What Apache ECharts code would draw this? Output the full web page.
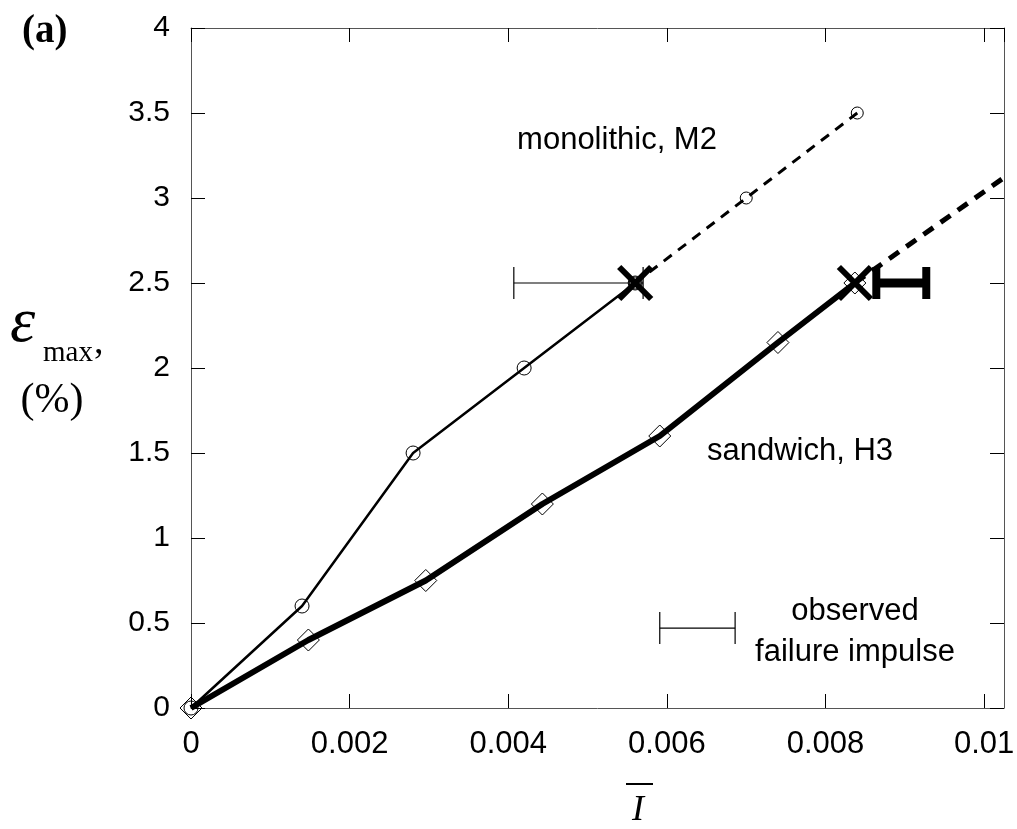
<!DOCTYPE html>
<html>
<head>
<meta charset="utf-8">
<script src="https://cdn.jsdelivr.net/npm/echarts@6/dist/echarts.min.js"></script>
<style>html,body{margin:0;padding:0;background:#fff}#c{width:1017px;height:829px}</style>
</head>
<body>
<div id="c"></div>
<script>
// ---- data ----
const monoSolidX = [0, 0.0014, 0.0028, 0.0042, 0.0056];
const monoSolidY = [0, 0.6, 1.5, 2.0, 2.5];
const monoDashX = [0.0056, 0.0070, 0.0084];
const monoDashY = [2.5, 3.0, 3.5];
const sandSolidX = [0, 0.00148, 0.00296, 0.00443, 0.00591, 0.0074, 0.00837];
const sandSolidY = [0, 0.4, 0.75, 1.2, 1.6, 2.15, 2.5];
const sandDashX = [0.00837, 0.01025];
const sandDashY = [2.5, 3.12];
const failX = [0.0056, 0.00837];
const failY = [2.5, 2.5];
// error bars: [xLow, xHigh, y]
const monoErr = [0.00407, 0.00570, 2.5];
const sandErr = [0.00864, 0.00927, 2.5];
const keyErr = [0.00591, 0.00686, 0.47];
const xTicks = [0, 0.002, 0.004, 0.006, 0.008, 0.01];
const yTicks = [0, 0.5, 1, 1.5, 2, 2.5, 3, 3.5, 4];

const zip = (xs, ys) => xs.map((x, i) => [x, ys[i]]);

const chart = echarts.init(document.getElementById('c'));
const SANS = 'Liberation Sans, Arial, sans-serif';
const SERIF = 'Liberation Serif, Times New Roman, serif';

function errRender(w, capW, capH) {
  return function (params, api) {
    const p0 = api.coord([api.value(0), api.value(2)]);
    const p1 = api.coord([api.value(1), api.value(2)]);
    const st = { stroke: '#000', lineWidth: w };
    const cs = { stroke: '#000', lineWidth: capW };
    return {
      type: 'group',
      children: [
        { type: 'line', shape: { x1: p0[0], y1: p0[1], x2: p1[0], y2: p1[1] }, style: st },
        { type: 'line', shape: { x1: p0[0], y1: p0[1] - capH, x2: p0[0], y2: p0[1] + capH }, style: cs },
        { type: 'line', shape: { x1: p1[0], y1: p1[1] - capH, x2: p1[0], y2: p1[1] + capH }, style: cs }
      ]
    };
  };
}

function axisBase() {
  return {
    type: 'value',
    axisLine: { show: true, onZero: false, lineStyle: { color: '#555', width: 1 } },
    axisTick: { show: true, inside: true, length: 14, lineStyle: { color: '#000', width: 1 } },
    splitLine: { show: false }
  };
}

const option = {
  animation: false,
  backgroundColor: '#fff',
  grid: { left: 191, right: 13, top: 28, bottom: 121, containLabel: false, outerBoundsMode: 'none' },
  xAxis: [
    Object.assign(axisBase(), {
      min: 0, max: 0.01025, interval: 0.002, position: 'bottom',
      axisLabel: {
        show: true, margin: 21, fontSize: 31, fontFamily: SANS, color: '#000',
        showMaxLabel: false,
        formatter: v => (xTicks.some(t => Math.abs(t - v) < 1e-9) ? String(+v.toFixed(4)) : '')
      }
    }),
    Object.assign(axisBase(), {
      min: 0, max: 0.01025, interval: 0.002, position: 'top',
      axisLabel: { show: false }
    })
  ],
  yAxis: [
    Object.assign(axisBase(), {
      min: 0, max: 4, interval: 0.5, position: 'left',
      axisLabel: {
        show: true, margin: 21, fontSize: 30, fontFamily: SANS, color: '#000',
        formatter: v => (yTicks.indexOf(v) >= 0 ? String(v) : '')
      }
    }),
    Object.assign(axisBase(), {
      min: 0, max: 4, interval: 0.5, position: 'right',
      axisLabel: { show: false }
    })
  ],
  series: [
    {
      type: 'line', data: zip(sandSolidX, sandSolidY),
      lineStyle: { color: '#000', width: 6 },
      symbol: 'diamond', symbolSize: 22,
      itemStyle: { color: 'rgba(0,0,0,0)', borderColor: '#000', borderWidth: 1 },
      z: 3
    },
    {
      type: 'line', data: zip(sandDashX, sandDashY),
      lineStyle: { color: '#000', width: 5, type: [12, 9] },
      showSymbol: false, symbol: 'none', z: 3
    },
    {
      type: 'line', data: zip(monoSolidX, monoSolidY),
      lineStyle: { color: '#000', width: 2.5 },
      symbol: 'circle', symbolSize: 14,
      itemStyle: { color: 'rgba(0,0,0,0)', borderColor: '#000', borderWidth: 1 },
      z: 4
    },
    {
      type: 'line', data: zip(monoDashX, monoDashY),
      lineStyle: { color: '#000', width: 3, type: [10, 8] },
      symbol: 'circle', symbolSize: 12,
      itemStyle: { color: 'rgba(0,0,0,0)', borderColor: '#000', borderWidth: 1 },
      z: 4
    },
    {
      type: 'custom', data: [monoErr, keyErr],
      renderItem: errRender(1.2, 1.2, 16), z: 5
    },
    {
      type: 'custom', data: [sandErr],
      renderItem: errRender(9, 8, 16), z: 5
    },
    {
      type: 'custom', data: zip(failX, failY), z: 6,
      renderItem: function (params, api) {
        const p = api.coord([api.value(0), api.value(1)]);
        const s = 16, st = { stroke: '#000', lineWidth: 6 };
        return {
          type: 'group', children: [
            { type: 'line', shape: { x1: p[0] - s, y1: p[1] - s, x2: p[0] + s, y2: p[1] + s }, style: st },
            { type: 'line', shape: { x1: p[0] - s, y1: p[1] + s, x2: p[0] + s, y2: p[1] - s }, style: st }
          ]
        };
      }
    }
  ],
  graphic: [
    { type: 'text', left: 22, top: 12, style: { text: '(a)', font: 'bold 39px ' + SERIF, fill: '#000' } },
    { type: 'text', x: 617, y: 140, style: { text: 'monolithic, M2', font: '31px ' + SANS, fill: '#000', textAlign: 'center', textVerticalAlign: 'middle' } },
    { type: 'text', x: 800, y: 451, style: { text: 'sandwich, H3', font: '31px ' + SANS, fill: '#000', textAlign: 'center', textVerticalAlign: 'middle' } },
    { type: 'text', x: 855, y: 611, style: { text: 'observed', font: '31px ' + SANS, fill: '#000', textAlign: 'center', textVerticalAlign: 'middle' } },
    { type: 'text', x: 855, y: 652, style: { text: 'failure impulse', font: '31px ' + SANS, fill: '#000', textAlign: 'center', textVerticalAlign: 'middle' } },
    { type: 'text', x: 10, y: 356, style: { text: 'ε', font: 'italic 64px ' + SERIF, fill: '#000', textVerticalAlign: 'bottom' } },
    { type: 'text', x: 43, y: 368, style: { text: 'max', font: '29px ' + SERIF, fill: '#000', textVerticalAlign: 'bottom' } },
    { type: 'text', x: 94, y: 343, style: { text: ',', font: '38px ' + SERIF, fill: '#000', textVerticalAlign: 'middle' } },
    { type: 'text', x: 52, y: 401, style: { text: '(%)', font: '42px ' + SERIF, fill: '#000', textAlign: 'center', textVerticalAlign: 'middle' } },
    { type: 'text', x: 638, y: 811, style: { text: 'I', font: 'italic 36px ' + SERIF, fill: '#000', textAlign: 'center', textVerticalAlign: 'middle' } },
    { type: 'line', shape: { x1: 626, y1: 784, x2: 653, y2: 784 }, style: { stroke: '#000', lineWidth: 2 } }
  ]
};
chart.setOption(option);
</script>
</body>
</html>
